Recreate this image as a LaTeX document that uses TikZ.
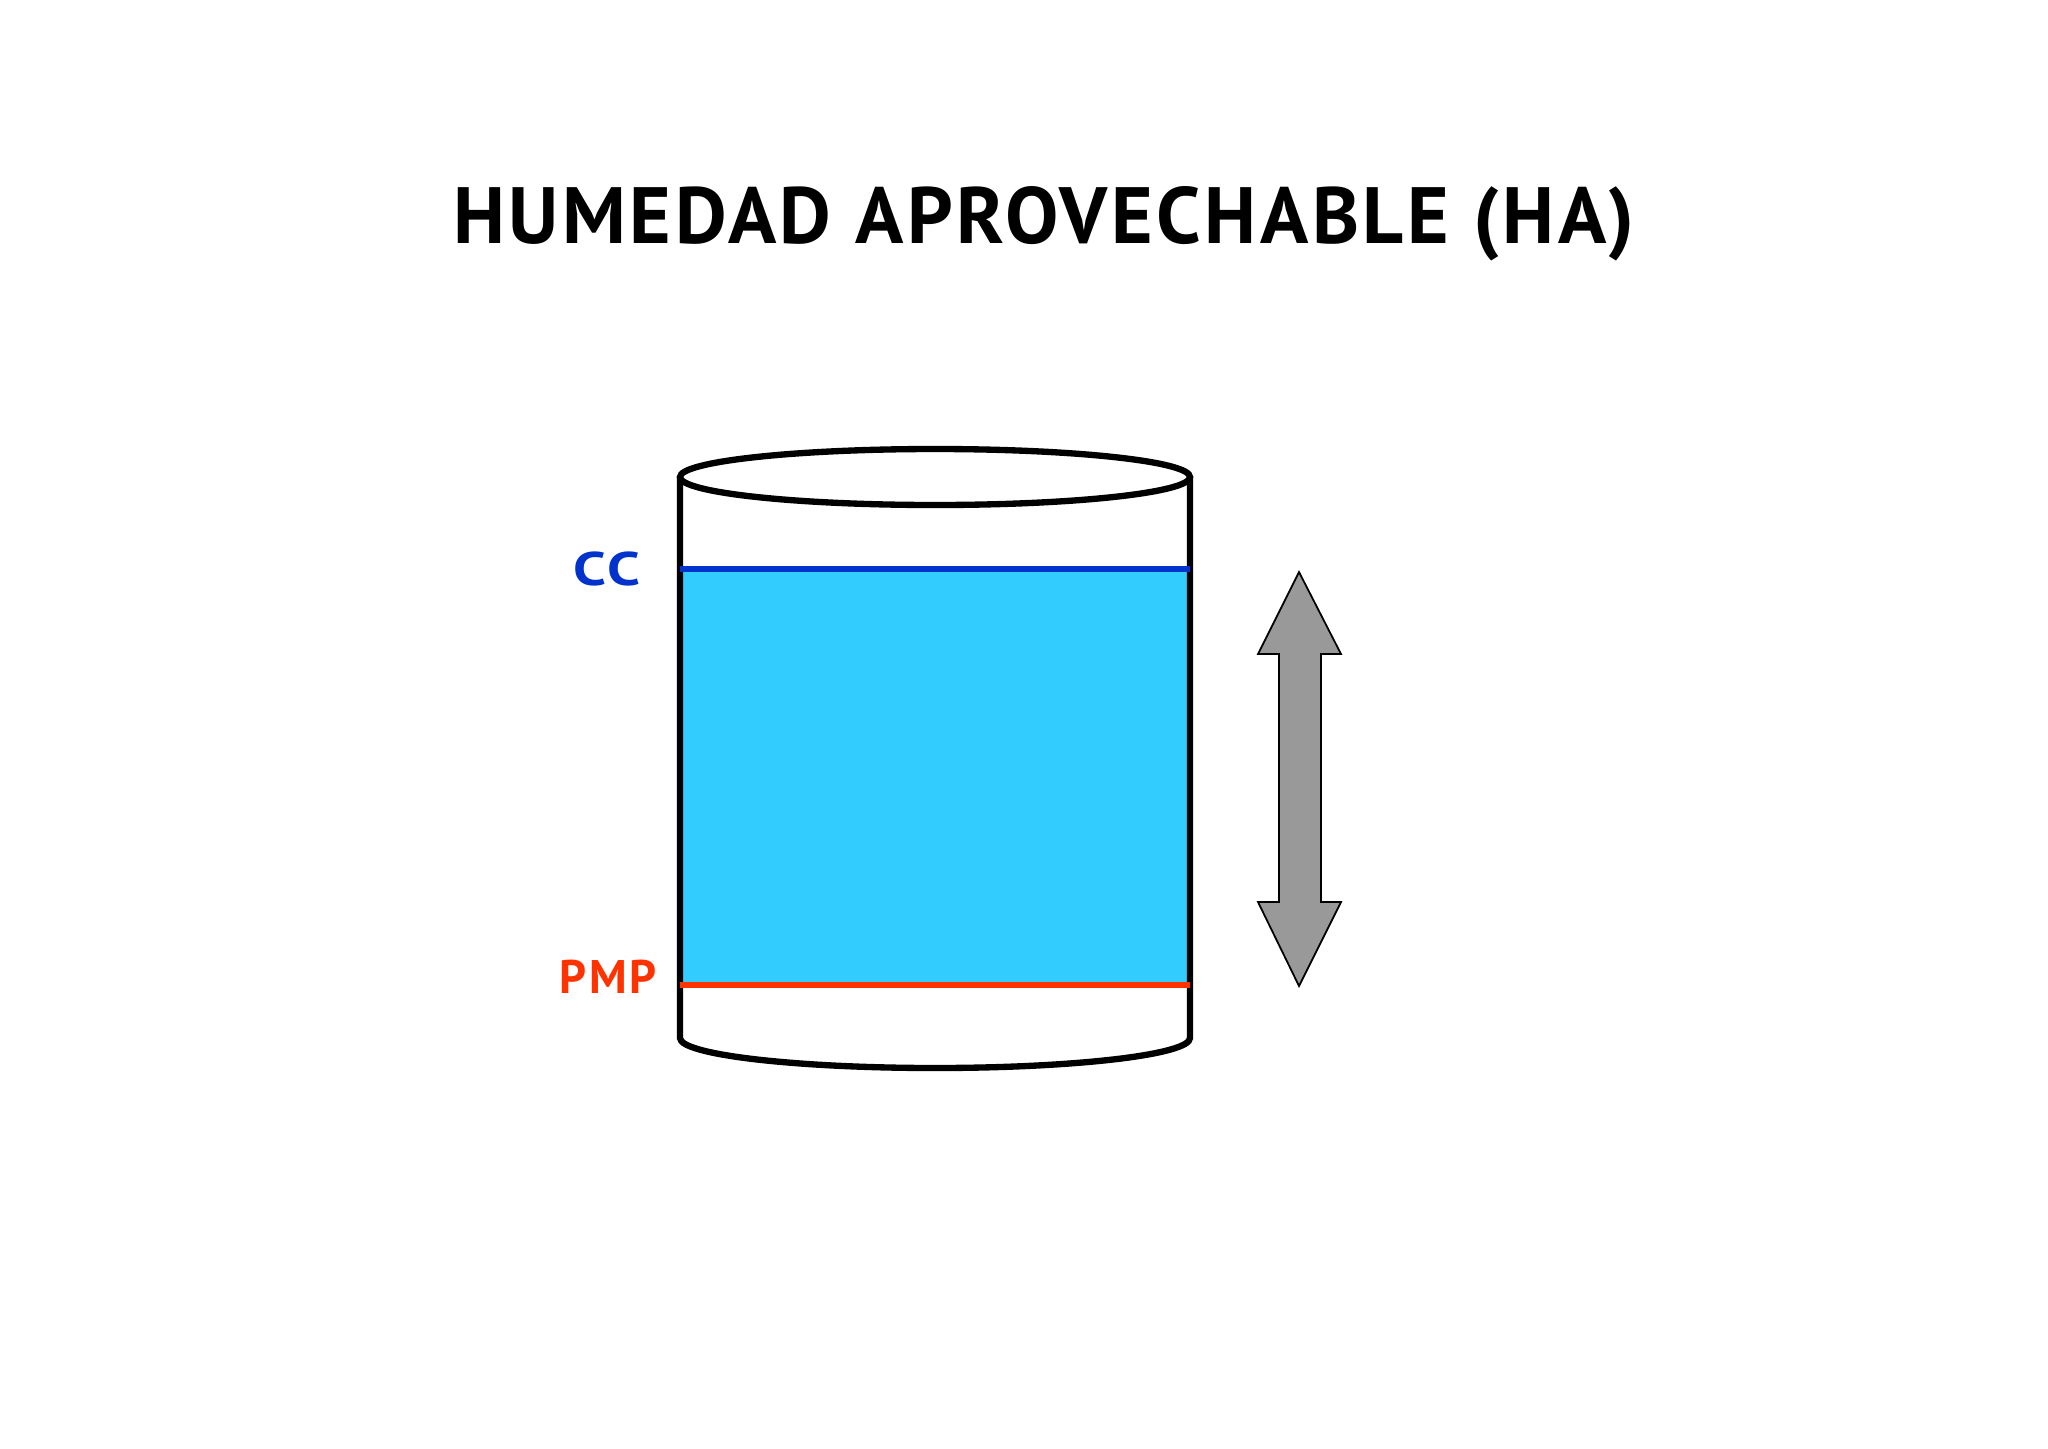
\documentclass[tikz,border=0pt]{standalone}
\usepackage{fontspec}
\setmainfont{PT Sans}
\definecolor{ccblue}{HTML}{0033CC}
\definecolor{pmpred}{HTML}{FF3300}
\definecolor{water}{HTML}{33CCFF}
\definecolor{arrowgray}{HTML}{999999}
\begin{document}
\begin{tikzpicture}
[x=0.01cm,y=-0.01cm,
  titledecorate/.style={font=\fontsize{22.7}{26}\selectfont\bfseries\addfontfeature{LetterSpace=4.5},anchor=base},%
  labeldecorate/.style={font=\fontsize{13.4}{16}\selectfont\bfseries\addfontfeature{LetterSpace=6},anchor=base},%
  wall/.style={line width=1.8pt,draw=black},%
  levelline/.style={line width=1.8pt}]
\useasboundingbox (0,0) rectangle (2048,1448);
%% title
\node (title) at (1044,243) [titledecorate] {HUMEDAD APROVECHABLE (HA)};
%% water between the two levels
\fill[water] (680,569) rectangle (1190,985);
%% cylinder
\draw[wall] (680,477) -- (680,1038)
  arc[start angle=180,end angle=0,x radius=255,y radius=30]
  -- (1190,477);
\draw[wall] (935,477) ellipse[x radius=255,y radius=28];
%% levels
\coordinate (ccleft) at (680,569);
\coordinate (ccright) at (1190,569);
\coordinate (pmpleft) at (680,985);
\coordinate (pmpright) at (1190,985);
\draw[levelline,ccblue] (ccleft) -- (ccright);
\draw[levelline,pmpred] (pmpleft) -- (pmpright);
\node (cc) at (607,585) [labeldecorate,text=ccblue] {\addfontfeature{FakeStretch=1.25}CC};
\node (pmp) at (608,993) [labeldecorate,text=pmpred] {PMP};
%% double arrow
\draw[fill=arrowgray,line width=0.5pt,line join=miter]
  (1299,572) -- (1341,654) -- (1321,654) -- (1321,902) -- (1341,902)
  -- (1299,986) -- (1258,902) -- (1279,902) -- (1279,654) -- (1258,654)
  -- cycle;
\end{tikzpicture}
\end{document}
